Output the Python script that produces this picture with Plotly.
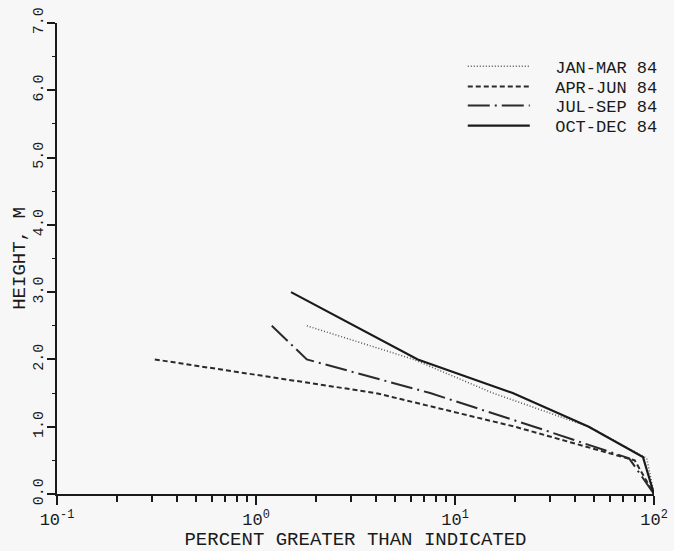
import plotly.graph_objects as go

# Data (percent greater than indicated vs height, m)
jan_mar_x = [1.8, 6.2, 15.5, 47, 92, 100]
jan_mar_y = [2.5, 2.0, 1.5, 1.0, 0.53, 0.0]

apr_jun_x = [0.31, 4.0, 20, 80, 100]
apr_jun_y = [2.0, 1.5, 1.0, 0.5, 0.0]

jul_sep_x = [1.2, 1.8, 7.5, 25, 75, 100]
jul_sep_y = [2.5, 2.0, 1.5, 1.0, 0.53, 0.0]

oct_dec_x = [1.5, 6.5, 19.5, 47, 88, 100]
oct_dec_y = [3.0, 2.0, 1.5, 1.0, 0.55, 0.0]

names = ["JAN-MAR 84", "APR-JUN 84", "JUL-SEP 84", "OCT-DEC 84"]
x_ticks = [0.1, 1, 10, 100]
x_labels = ["10<sup>-1</sup>", "10<sup>0</sup>", "10<sup>1</sup>", "10<sup>2</sup>"]
y_ticks = [0, 1, 2, 3, 4, 5, 6, 7]
y_labels = ["0.0", "1.0", "2.0", "3.0", "4.0", "5.0", "6.0", "7.0"]

FONT = "Liberation Mono, DejaVu Sans Mono, monospace"
INK = "#1a1a1a"
BG = "#f7f7f7"

fig = go.Figure()
series = [
    (jan_mar_x, jan_mar_y, names[0], dict(color="#555555", width=1.5, dash="1px,2px")),
    (apr_jun_x, apr_jun_y, names[1], dict(color="#2a2a2a", width=2, dash="5px,3px")),
    (jul_sep_x, jul_sep_y, names[2], dict(color="#2a2a2a", width=2, dash="22px,5px,2px,5px")),
    (oct_dec_x, oct_dec_y, names[3], dict(color="#1a1a1a", width=2.2)),
]
legend_ids = ["legend", "legend2", "legend3", "legend4"]
for (xs, ys, nm, ln), lid in zip(series, legend_ids):
    fig.add_trace(go.Scatter(x=xs, y=ys, mode="lines", legend=lid,
                             name="\u00a0\u00a0" + nm, line=ln))

leg_common = dict(x=1.013, xanchor="right", yanchor="middle",
                  bgcolor="rgba(0,0,0,0)", itemwidth=62,
                  font=dict(family=FONT, size=17, color=INK))
leg_rows = [0.907, 0.864, 0.824, 0.781]

fig.update_layout(
    width=674, height=551,
    margin=dict(l=57, r=19, t=23, b=57),
    paper_bgcolor=BG, plot_bgcolor=BG,
    font=dict(family=FONT, size=18, color=INK),
    showlegend=True,
    legend=dict(y=leg_rows[0], **leg_common),
    legend2=dict(y=leg_rows[1], **leg_common),
    legend3=dict(y=leg_rows[2], **leg_common),
    legend4=dict(y=leg_rows[3], **leg_common),
    xaxis=dict(
        type="log", range=[-1, 2], tickvals=x_ticks, ticktext=x_labels,
        automargin=False,
        showline=True, linecolor=INK, linewidth=2, mirror=False,
        showgrid=False, zeroline=False,
        ticks="outside", ticklen=9, tickwidth=1.5, tickcolor=INK,
        minor=dict(ticks="outside", ticklen=6, tickwidth=1.5, tickcolor=INK,
                   dtick="D1", showgrid=False),
        tickfont=dict(family=FONT, size=17, color=INK),
        title=dict(text="PERCENT GREATER THAN INDICATED", standoff=0,
                   font=dict(family=FONT, size=19, color=INK)),
    ),
    yaxis=dict(
        range=[0, 7], tickvals=y_ticks, ticktext=y_labels, tickangle=-90,
        automargin=False, ticklabelstandoff=-2,
        showline=True, linecolor=INK, linewidth=2, mirror=False,
        showgrid=False, zeroline=False,
        ticks="outside", ticklen=8, tickwidth=1.5, tickcolor=INK,
        minor=dict(ticks="outside", ticklen=3, tickwidth=1, tickcolor=INK,
                   dtick=0.5, showgrid=False),
        tickfont=dict(family=FONT, size=15, color=INK),
        title=dict(text="HEIGHT, M", standoff=0,
                   font=dict(family=FONT, size=19, color=INK)),
    ),
)

fig.write_html(
    "out.html",
    config={"displayModeBar": False},
    post_script="document.body.style.margin='0';document.body.style.background='%s';" % BG,
)
